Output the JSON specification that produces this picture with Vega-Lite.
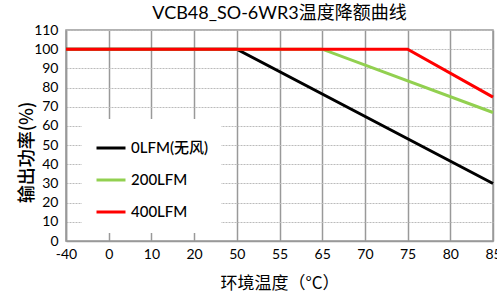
{
  "$schema": "https://vega.github.io/schema/vega-lite/v6.json",
  "autosize": {"type": "none"},
  "width": 427,
  "height": 211,
  "padding": {"left": 66, "top": 30, "right": 4, "bottom": 57},
  "background": "white",
  "title": {
    "text": "VCB48_SO-6WR3温度降额曲线",
    "fontSize": 18,
    "font": "Lato, Noto Sans CJK SC",
    "fontWeight": "normal",
    "color": "#000",
    "anchor": "middle",
    "offset": 0
  },
  "data": {
    "values": [
      {"series": "0LFM(无风)", "temp": -40, "power": 100},
      {"series": "0LFM(无风)", "temp": 50, "power": 100},
      {"series": "0LFM(无风)", "temp": 85, "power": 30},
      {"series": "200LFM", "temp": -40, "power": 100},
      {"series": "200LFM", "temp": 65, "power": 100},
      {"series": "200LFM", "temp": 85, "power": 67},
      {"series": "400LFM", "temp": -40, "power": 100},
      {"series": "400LFM", "temp": 75, "power": 100},
      {"series": "400LFM", "temp": 85, "power": 75}
    ]
  },
  "mark": {"type": "line", "strokeWidth": 3},
  "encoding": {
    "x": {
      "field": "temp",
      "type": "ordinal",
      "scale": {"type": "point", "domain": [-40, 0, 10, 20, 50, 55, 65, 70, 75, 80, 85], "padding": 0},
      "axis": {
        "title": "环境温度（°C）",
        "labelAngle": 0,
        "ticks": false,
        "domainColor": "#999",
        "domainWidth": 1.5,
        "grid": true,
        "gridColor": "#999",
        "gridWidth": 1.5,
        "labelFontSize": 14,
        "labelFont": "Lato",
        "labelColor": "#000",
        "labelPadding": 6,
        "titleFontSize": 17,
        "titleFont": "Noto Sans CJK SC",
        "titleFontWeight": "normal",
        "titleColor": "#000",
        "titlePadding": 14
      }
    },
    "y": {
      "field": "power",
      "type": "quantitative",
      "scale": {"domain": [0, 110], "nice": false},
      "axis": {
        "title": "输出功率(%)",
        "values": [0, 10, 20, 30, 40, 50, 60, 70, 80, 90, 100, 110],
        "ticks": false,
        "domainColor": "#999",
        "domainWidth": 1.5,
        "grid": true,
        "gridColor": "#bbb",
        "gridDash": [2, 1],
        "gridWidth": 1,
        "labelFontSize": 14,
        "labelFont": "Lato",
        "labelColor": "#000",
        "labelPadding": 8,
        "titleFontSize": 18,
        "titleFont": "Noto Sans CJK SC",
        "titleFontWeight": 500,
        "titleColor": "#000",
        "titlePadding": -3,
        "titleY": 122
      }
    },
    "color": {
      "field": "series",
      "type": "nominal",
      "scale": {"domain": ["0LFM(无风)", "200LFM", "400LFM"], "range": ["#000000", "#92D050", "#FF0000"]},
      "legend": {
        "orient": "none",
        "legendX": 16,
        "legendY": 89,
        "title": null,
        "fillColor": "white",
        "padding": 13,
        "symbolType": "stroke",
        "symbolStrokeWidth": 3,
        "symbolSize": 841,
        "labelFontSize": 15,
        "labelFont": "Lato, Noto Sans CJK SC",
        "labelFontWeight": 500,
        "labelColor": "#000",
        "labelOffset": 4,
        "rowPadding": 8
      }
    }
  },
  "config": {
    "view": {"stroke": "#999", "strokeWidth": 1.5}
  }
}
